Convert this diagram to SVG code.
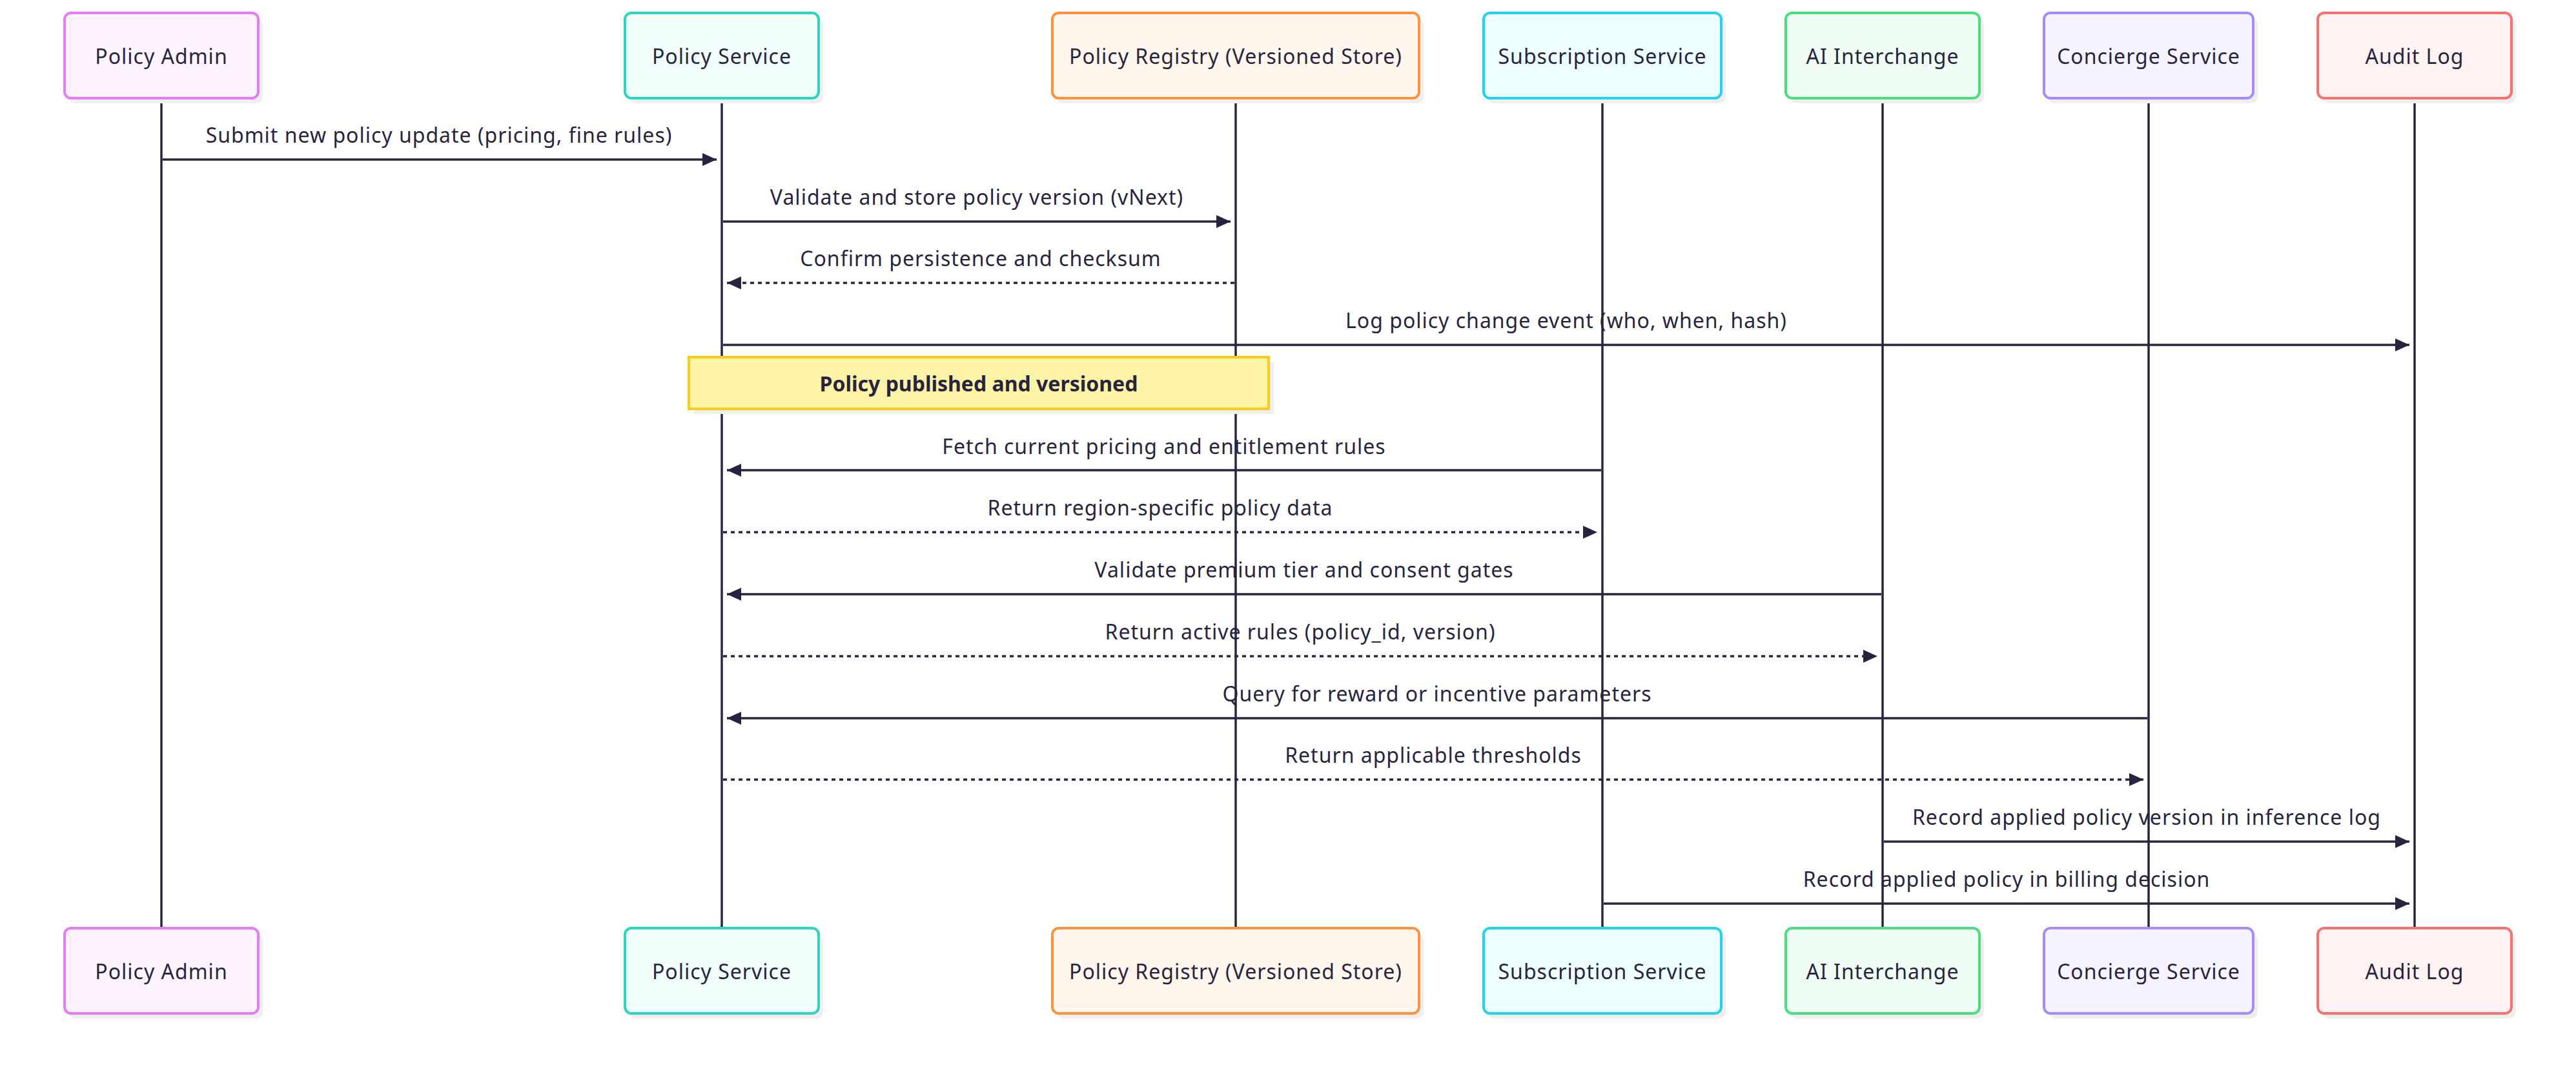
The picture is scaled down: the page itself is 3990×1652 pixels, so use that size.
<svg xmlns="http://www.w3.org/2000/svg" width="3990" height="1652" viewBox="0 0 3990 1652">
<defs>
<style>
.bg{fill:#ffffff}
.shadow{fill:#efefef}
.actor{stroke-width:4}
.atext{font-family:"Noto Sans","Open Sans",sans-serif;font-size:32px;letter-spacing:1px;fill:#28243d;text-anchor:middle;dominant-baseline:central}
.life{stroke:#28243d;stroke-width:3.5;fill:none}
.msg{stroke:#28243d;stroke-width:3.5;fill:none}
.dash{stroke-dasharray:6 6}
.mtext{font-family:"Noto Sans","Open Sans",sans-serif;font-size:32px;letter-spacing:1px;fill:#28243d;text-anchor:middle}
.ntext{font-family:"Noto Sans","Open Sans",sans-serif;font-size:32px;font-weight:bold;fill:#28243d;text-anchor:middle;dominant-baseline:central}
</style>
<marker id="ahR" markerWidth="22" markerHeight="20" refX="22" refY="10" orient="auto" markerUnits="userSpaceOnUse"><path d="M0,0 L22,10 L0,20 Z" fill="#28243d"/></marker>
</defs>
<rect class="bg" x="0" y="0" width="3990" height="1652"/>

<g id="lifelines">
<line class="life" x1="250" y1="152" x2="250" y2="1437"/>
<line class="life" x1="1118" y1="152" x2="1118" y2="1437"/>
<line class="life" x1="1914" y1="152" x2="1914" y2="1437"/>
<line class="life" x1="2482" y1="152" x2="2482" y2="1437"/>
<line class="life" x1="2916" y1="152" x2="2916" y2="1437"/>
<line class="life" x1="3328" y1="152" x2="3328" y2="1437"/>
<line class="life" x1="3740" y1="152" x2="3740" y2="1437"/>
</g>

<g id="actor-admin">
<rect class="shadow" x="107" y="28" width="300" height="132" rx="10"/>
<rect class="actor" x="100" y="20" width="300" height="132" rx="10" fill="#fdf4ff" stroke="#e879f9"/>
<text class="atext" x="250" y="86">Policy Admin</text>
<rect class="shadow" x="107" y="1445" width="300" height="132" rx="10"/>
<rect class="actor" x="100" y="1437" width="300" height="132" rx="10" fill="#fdf4ff" stroke="#e879f9"/>
<text class="atext" x="250" y="1503">Policy Admin</text>
</g>
<g id="actor-service">
<rect class="shadow" x="975" y="28" width="300" height="132" rx="10"/>
<rect class="actor" x="968" y="20" width="300" height="132" rx="10" fill="#f0fdfa" stroke="#2dd4bf"/>
<text class="atext" x="1118" y="86">Policy Service</text>
<rect class="shadow" x="975" y="1445" width="300" height="132" rx="10"/>
<rect class="actor" x="968" y="1437" width="300" height="132" rx="10" fill="#f0fdfa" stroke="#2dd4bf"/>
<text class="atext" x="1118" y="1503">Policy Service</text>
</g>
<g id="actor-registry">
<rect class="shadow" x="1637" y="28" width="568" height="132" rx="10"/>
<rect class="actor" x="1630" y="20" width="568" height="132" rx="10" fill="#fff7ed" stroke="#fb923c"/>
<text class="atext" x="1914" y="86">Policy Registry (Versioned Store)</text>
<rect class="shadow" x="1637" y="1445" width="568" height="132" rx="10"/>
<rect class="actor" x="1630" y="1437" width="568" height="132" rx="10" fill="#fff7ed" stroke="#fb923c"/>
<text class="atext" x="1914" y="1503">Policy Registry (Versioned Store)</text>
</g>
<g id="actor-subscription">
<rect class="shadow" x="2305" y="28" width="368" height="132" rx="10"/>
<rect class="actor" x="2298" y="20" width="368" height="132" rx="10" fill="#ecfeff" stroke="#22d3ee"/>
<text class="atext" x="2482" y="86">Subscription Service</text>
<rect class="shadow" x="2305" y="1445" width="368" height="132" rx="10"/>
<rect class="actor" x="2298" y="1437" width="368" height="132" rx="10" fill="#ecfeff" stroke="#22d3ee"/>
<text class="atext" x="2482" y="1503">Subscription Service</text>
</g>
<g id="actor-ai">
<rect class="shadow" x="2773" y="28" width="300" height="132" rx="10"/>
<rect class="actor" x="2766" y="20" width="300" height="132" rx="10" fill="#f0fdf4" stroke="#4ade80"/>
<text class="atext" x="2916" y="86">AI Interchange</text>
<rect class="shadow" x="2773" y="1445" width="300" height="132" rx="10"/>
<rect class="actor" x="2766" y="1437" width="300" height="132" rx="10" fill="#f0fdf4" stroke="#4ade80"/>
<text class="atext" x="2916" y="1503">AI Interchange</text>
</g>
<g id="actor-concierge">
<rect class="shadow" x="3173" y="28" width="324" height="132" rx="10"/>
<rect class="actor" x="3166" y="20" width="324" height="132" rx="10" fill="#f5f3ff" stroke="#a78bfa"/>
<text class="atext" x="3328" y="86">Concierge Service</text>
<rect class="shadow" x="3173" y="1445" width="324" height="132" rx="10"/>
<rect class="actor" x="3166" y="1437" width="324" height="132" rx="10" fill="#f5f3ff" stroke="#a78bfa"/>
<text class="atext" x="3328" y="1503">Concierge Service</text>
</g>
<g id="actor-audit">
<rect class="shadow" x="3597" y="28" width="300" height="132" rx="10"/>
<rect class="actor" x="3590" y="20" width="300" height="132" rx="10" fill="#fef2f2" stroke="#f87171"/>
<text class="atext" x="3740" y="86">Audit Log</text>
<rect class="shadow" x="3597" y="1445" width="300" height="132" rx="10"/>
<rect class="actor" x="3590" y="1437" width="300" height="132" rx="10" fill="#fef2f2" stroke="#f87171"/>
<text class="atext" x="3740" y="1503">Audit Log</text>
</g>

<g id="note">
<rect class="shadow" x="1075" y="561" width="898" height="80"/>
<rect x="1067" y="553" width="898" height="80" fill="#fef4a8" stroke="#facc15" stroke-width="4"/>
<text class="ntext" x="1516" y="593">Policy published and versioned</text>
</g>

<g id="connectors">
<line class="msg" x1="252" y1="247" x2="1110" y2="247" marker-end="url(#ahR)"/>
<text class="mtext" x="680" y="221">Submit new policy update (pricing, fine rules)</text>
<line class="msg" x1="1120" y1="343" x2="1906" y2="343" marker-end="url(#ahR)"/>
<text class="mtext" x="1513" y="317">Validate and store policy version (vNext)</text>
<line class="msg dash" x1="1912" y1="438" x2="1126" y2="438" marker-end="url(#ahR)"/>
<text class="mtext" x="1519" y="412">Confirm persistence and checksum</text>
<line class="msg" x1="1120" y1="534" x2="3732" y2="534" marker-end="url(#ahR)"/>
<text class="mtext" x="2426" y="508">Log policy change event (who, when, hash)</text>
<line class="msg" x1="2480" y1="728" x2="1126" y2="728" marker-end="url(#ahR)"/>
<text class="mtext" x="1803" y="703">Fetch current pricing and entitlement rules</text>
<line class="msg dash" x1="1120" y1="824" x2="2474" y2="824" marker-end="url(#ahR)"/>
<text class="mtext" x="1797" y="798">Return region-specific policy data</text>
<line class="msg" x1="2914" y1="920" x2="1126" y2="920" marker-end="url(#ahR)"/>
<text class="mtext" x="2020" y="894">Validate premium tier and consent gates</text>
<line class="msg dash" x1="1120" y1="1016" x2="2908" y2="1016" marker-end="url(#ahR)"/>
<text class="mtext" x="2014" y="990">Return active rules (policy_id, version)</text>
<line class="msg" x1="3326" y1="1112" x2="1126" y2="1112" marker-end="url(#ahR)"/>
<text class="mtext" x="2226" y="1086">Query for reward or incentive parameters</text>
<line class="msg dash" x1="1120" y1="1207" x2="3320" y2="1207" marker-end="url(#ahR)"/>
<text class="mtext" x="2220" y="1181">Return applicable thresholds</text>
<line class="msg" x1="2918" y1="1303" x2="3732" y2="1303" marker-end="url(#ahR)"/>
<text class="mtext" x="3325" y="1277">Record applied policy version in inference log</text>
<line class="msg" x1="2484" y1="1399" x2="3732" y2="1399" marker-end="url(#ahR)"/>
<text class="mtext" x="3108" y="1373">Record applied policy in billing decision</text>
</g>
</svg>
